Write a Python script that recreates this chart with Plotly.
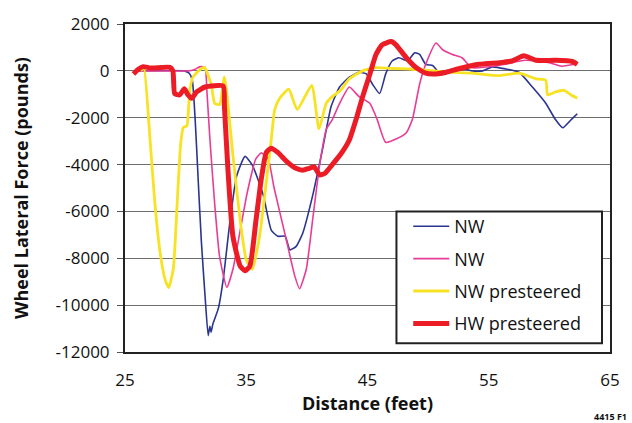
import plotly.graph_objects as go

# ---- data ----
nw1_x = [26.0, 29.9, 30.3, 30.55, 30.8, 31.05, 31.3, 31.6, 31.86, 32.0, 32.1, 32.25, 32.7, 33.1, 33.64,
         34.2, 34.9, 35.5, 36.4, 37.07, 37.6, 38.2, 38.6, 39.1, 39.65, 40.5, 41.3, 42.0, 42.7, 43.5,
         44.3, 44.9, 45.4, 46.0, 46.5, 47.05, 47.6, 48.3, 48.9, 49.3, 49.8, 50.4, 50.9, 52.6, 53.6,
         54.5, 55.3, 56.4, 57.5, 58.6, 59.7, 60.5, 61.1, 61.8, 62.3]
nw1_y = [0, 0, -100, -400, -2200, -4800, -7300, -9600, -11300, -10900, -11150, -10800, -10140, -8900, -6500,
         -4500, -3650, -4020, -5300, -6810, -7060, -7060, -7640, -7500, -6940, -5270, -3320, -1520, -690, -270,
         -60, -130, -560, -970, -130, 430, 560, 430, 770, 700, 280, 220, -60, 140, 0,
         0, 170, 80, -60, -690, -1380, -2080, -2430, -2080, -1830]

nw2_x = [26.0, 30.2, 30.7, 31.2, 31.6, 31.75, 32.0, 32.4, 32.8, 33.4, 33.9, 34.5, 35.1, 35.8, 36.25,
         36.8, 37.3, 38.3, 39.0, 39.4, 39.95, 40.5, 41.05, 41.6, 42.1, 42.7, 43.5, 44.3, 45.2, 45.8,
         46.5, 47.4, 48.2, 48.7, 49.3, 49.8, 50.65, 51.2, 52.0, 52.8, 53.6, 56.0, 58.0, 60.0, 61.0, 62.3]
nw2_y = [0, 0, 50, 180, 150, -820, -2900, -5690, -7920, -9240, -8470, -6810, -5150, -3750, -3500,
         -3750, -5000, -7200, -8750, -9300, -8470, -6250, -4020, -2500, -2080, -1390, -690, -1100, -1390, -2080,
         -3050, -2900, -2640, -2080, -560, 280, 1190, 900, 700, 560, 140, 250, 450, 350, 200, 300]

nwp_x = [26.3, 26.55, 27.06, 27.47, 27.9, 28.3, 28.6, 28.98, 29.3, 29.58, 29.8, 30.1, 30.2, 30.35, 30.6,
         31.2, 31.55, 32.1, 32.4, 32.8, 33.2, 33.9, 34.5, 35.0, 35.5, 36.1, 36.66, 37.07, 37.35, 37.76,
         38.5, 39.2, 40.4, 41.0, 41.6, 42.1, 42.8, 43.5, 44.6, 45.7, 47.0, 48.5, 50.0, 51.5, 53.6,
         55.9, 57.5, 58.9, 59.7, 59.85, 60.5, 61.2, 61.8, 62.3]
nwp_y = [0, 150, -2900, -5690, -7770, -8890, -9250, -8470, -5690, -3190, -2420, -2350, -1940, -820, -270,
         60, 150, -560, -1390, -1440, -270, -3600, -6390, -8060, -8470, -7060, -4720, -2900, -1650, -1170,
         -780, -1650, -620, -2480, -1380, -1100, -820, -340, 0, 140, 100, 80, 20, -50, -100,
         -200, -100, -340, -400, -1030, -900, -830, -1030, -1170]

hwp_x = [25.7, 26.1, 26.5, 27.1, 28.7, 28.95, 29.1, 29.5, 29.9, 30.2, 30.5, 30.9, 31.6, 33.1, 33.2,
         33.5, 33.9, 34.5, 34.9, 35.3, 35.8, 36.25, 36.65, 37.05, 37.6, 38.3, 39.1, 39.65, 40.2, 40.6,
         41.05, 41.5, 42.1, 42.8, 43.5, 44.1, 44.6, 45.2, 45.7, 46.2, 46.95, 47.35, 48.2, 49.0, 49.8,
         50.65, 51.5, 52.6, 54.2, 55.9, 56.9, 57.9, 58.9, 60.5, 61.9, 62.3]
hwp_y = [-130, 70, 180, 120, 150, 0, -970, -1030, -760, -1030, -1170, -900, -690, -650, -1520,
         -4300, -7060, -8330, -8530, -8330, -6390, -4580, -3480, -3300, -3480, -3850, -4160, -4240, -4160, -4100,
         -4440, -4370, -4000, -3550, -2950, -2000, -1100, -130, 700, 1110, 1250, 1110, 560, 140, -100,
         -130, -60, 100, 280, 350, 420, 640, 450, 450, 400, 280]

series_names = ["NW", "NW", "NW presteered", "HW presteered"]
series_colors = ["#2b3590", "#e83d96", "#f8e224", "#ec1c26"]
series_widths = [1.6, 1.6, 2.8, 5]

x_ticks = [25, 35, 45, 55, 65]
y_ticks = [2000, 0, -2000, -4000, -6000, -8000, -10000, -12000]
y_tick_labels = ["2000", "0", "-2000", "-4000", "-6000", "-8000", "-10000", "-12000"]

FONT = "Open Sans"

fig = go.Figure()
for xs, ys, name, col, w, g in zip([nw1_x, nw2_x, nwp_x, hwp_x], [nw1_y, nw2_y, nwp_y, hwp_y],
                                   series_names, series_colors, series_widths, ["a", "b", "c", "d"]):
    fig.add_trace(go.Scatter(x=xs, y=ys, name=name, mode="lines", legendgroup=g,
                             line=dict(color=col, width=w, shape="spline", smoothing=0.5)))

fig.update_layout(
    width=632, height=423,
    margin=dict(l=125, r=21, t=16, b=71),
    paper_bgcolor="white", plot_bgcolor="white",
    font=dict(family=FONT, color="#111111", size=17),
    showlegend=True,
    legend=dict(x=0.584, y=0.439, xanchor="left", yanchor="top",
                bgcolor="rgba(0,0,0,0)", borderwidth=0,
                font=dict(family=FONT, size=18, color="#111111"),
                tracegroupgap=6, itemwidth=36),
    xaxis=dict(range=[25, 65], tickvals=x_ticks, ticks="", showgrid=False,
               showline=True, linecolor="#222222", linewidth=2, mirror=True,
               ticklabelstandoff=12, tickfont=dict(size=17),
               title=dict(text="<b>Distance (feet)</b>", standoff=6, font=dict(size=18)),
               zeroline=False),
    yaxis=dict(range=[-12000, 2000], tickvals=y_ticks, ticktext=y_tick_labels,
               ticks="outside", ticklen=6,
               tickcolor="#555555", showgrid=True, gridcolor="#6e6e6e", gridwidth=1.4,
               showline=True, linecolor="#222222", linewidth=2, mirror=True,
               ticklabelstandoff=4, tickfont=dict(size=17),
               title=dict(text="<b>Wheel Lateral Force (pounds)</b>", standoff=22, font=dict(size=18)),
               zeroline=False),
    xaxis2=dict(range=[25, 65], overlaying="x", anchor="free", position=12000 / 14000,
                side="bottom", tickvals=[35, 45, 55], ticks="outside", ticklen=10,
                tickcolor="#555555", tickwidth=1.4, showticklabels=False,
                showgrid=False, showline=False, zeroline=False),
)

# legend frame
fig.add_shape(type="rect", xref="paper", yref="paper", x0=0.5597, x1=0.9835, y0=0.0268, y1=0.4286,
              line=dict(color="#222222", width=2), fillcolor="white", layer="above")

fig.add_annotation(text="<b>4415 F1</b>", xref="paper", yref="paper", x=1.04, y=-0.196,
                   xanchor="right", yanchor="middle", showarrow=False,
                   font=dict(size=9, family=FONT, color="#111111"))

fig.write_html("out.html")
